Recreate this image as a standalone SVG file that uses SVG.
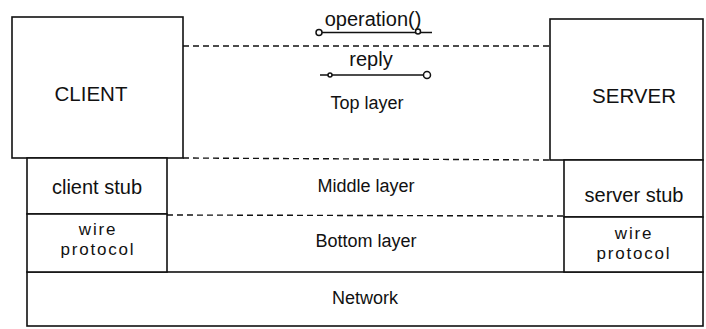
<svg xmlns="http://www.w3.org/2000/svg" width="706" height="329" viewBox="0 0 706 329">
<style>
.box{fill:#fff;stroke:#111;stroke-width:1.6}
.dash{stroke:#111;stroke-width:1.4;stroke-dasharray:6 4;fill:none}
.ln{stroke:#111;stroke-width:1.6;fill:none}
.t{font-family:"Liberation Sans",Arial,sans-serif;font-size:18px;fill:#111;text-anchor:middle}
.big{font-size:20.5px}
.st{font-size:20px}
.wp{font-size:17px;letter-spacing:1.8px}
.lbl{font-size:20px}
.c{fill:#fff;stroke:#111;stroke-width:1.5}
</style>
<rect width="706" height="329" fill="#fff"/>
<g id="network"><rect class="box" x="27" y="272" width="676" height="54"/><text class="t" x="365" y="304">Network</text></g>
<g id="client"><rect class="box" x="12" y="17" width="171" height="141"/><text class="t big" x="91" y="101">CLIENT</text></g>
<g id="server"><rect class="box" x="550" y="19" width="153" height="141"/><text class="t big" x="634" y="103">SERVER</text></g>
<g id="client-stub"><rect class="box" x="27" y="158" width="140" height="56"/><text class="t st" x="97" y="194">client stub</text></g>
<g id="client-wire"><rect class="box" x="27" y="214" width="140" height="58"/><text class="t wp" x="98" y="235">wire<tspan x="98" dy="20">protocol</tspan></text></g>
<g id="server-stub"><rect class="box" x="564" y="160" width="139" height="57"/><text class="t st" x="634" y="202">server stub</text></g>
<g id="server-wire"><rect class="box" x="564" y="217" width="139" height="55"/><text class="t wp" x="634" y="239">wire<tspan x="634" dy="20">protocol</tspan></text></g>
<g id="layers">
<text class="t" x="367" y="109">Top layer</text>
<text class="t" x="366" y="192">Middle layer</text>
<text class="t" x="366" y="247">Bottom layer</text>
</g>
<g id="connectors">
<line class="dash" x1="183" y1="46" x2="550" y2="46"/>
<line class="dash" x1="183" y1="158" x2="550" y2="160"/>
<line class="dash" x1="167" y1="215" x2="564" y2="216"/>
<g id="operation">
<text class="t lbl" x="373" y="26">operation()</text>
<line class="ln" x1="318" y1="32.5" x2="432" y2="32.5"/>
<circle class="c" cx="319" cy="32.5" r="3"/>
<circle class="c" cx="418" cy="31.5" r="2.5"/>
</g>
<g id="reply">
<text class="t lbl" x="371" y="66">reply</text>
<line class="ln" x1="320" y1="75" x2="424" y2="75"/>
<circle class="c" cx="427" cy="75" r="3.5"/>
<circle class="c" cx="330" cy="75" r="2"/>
</g>
</g>
</svg>
